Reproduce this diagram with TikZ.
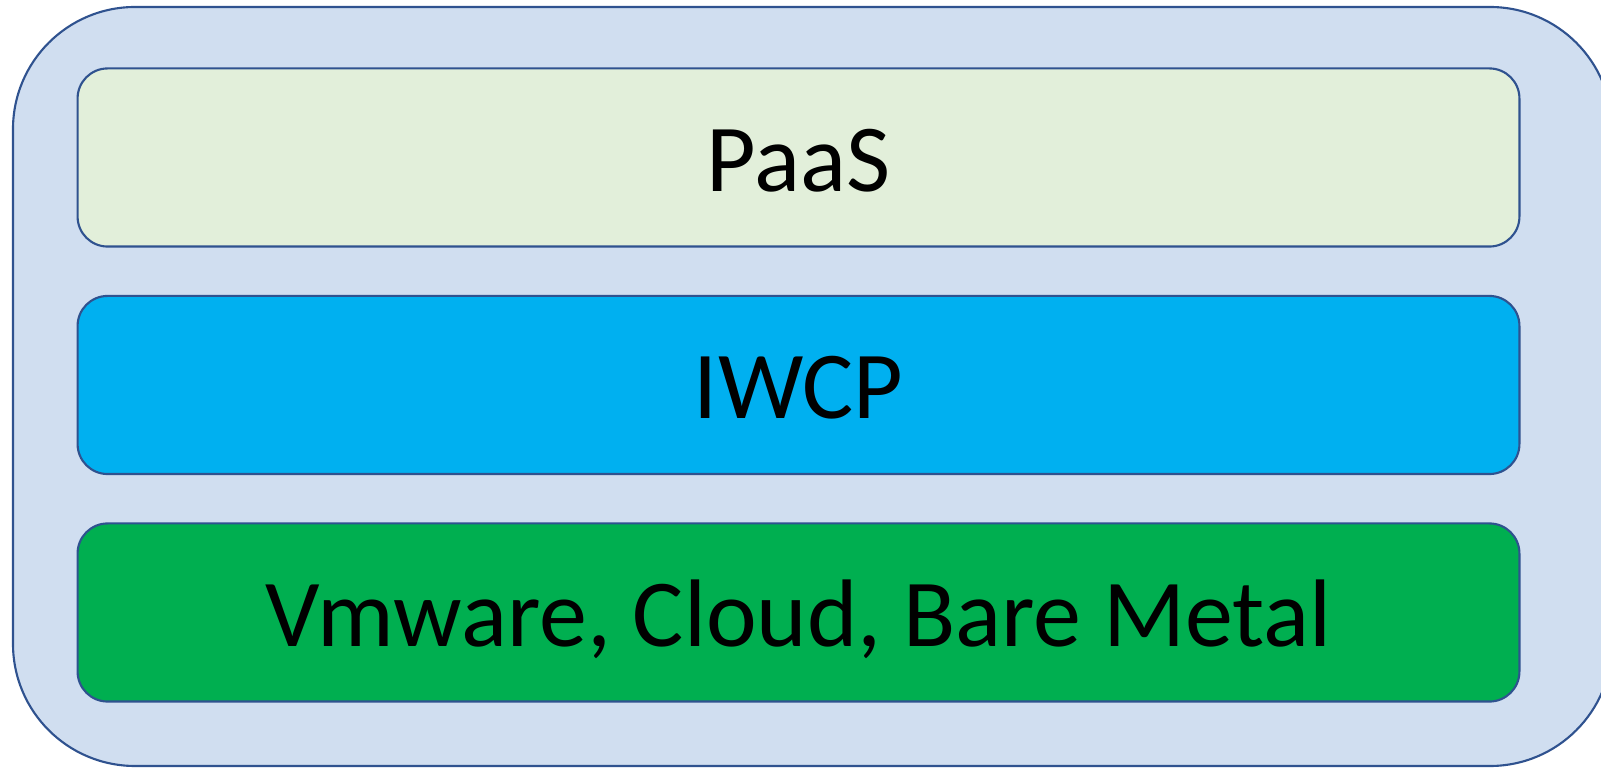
\documentclass[tikz,border=0pt]{standalone}
\usepackage{fontspec}
\setmainfont{Carlito}
\usepackage{xcolor}
\usepackage{tikz}

\definecolor{frameblue}{HTML}{2F528F}
\definecolor{outerfill}{HTML}{D0DEF0}
\definecolor{paasfill}{HTML}{E2EFDA}
\definecolor{iwcpfill}{HTML}{00B0F0}
\definecolor{infrafill}{HTML}{00AF50}

\begin{document}
\begin{tikzpicture}[x=0.01cm,y=-0.01cm]
\tikzset{layer/.style={draw=frameblue,line width=0.6pt,rounded corners=0.3cm,
  minimum width=14.41cm,minimum height=1.78cm,inner sep=0pt,
  font=\fontsize{27.3}{30}\selectfont,text height=23.2pt,text depth=4.1pt}}
\useasboundingbox (0,0) rectangle (1601,768);

\begin{scope} %outer frame
 \def\cx{798.5} \def\g{227.5}
 \draw[frameblue,fill=outerfill,line width=0.6pt,rounded corners=1.22cm] (13,7) rectangle (1612,766);

 \node[layer,fill=paasfill] (paas) at (\cx,157.5) {PaaS};
 \node[layer,fill=iwcpfill] (iwcp) at (\cx,157.5+\g) {IWCP};
 \node[layer,fill=infrafill] (infra) at (\cx,157.5+2*\g) {Vmware, Cloud, Bare Metal};
\end{scope}

\end{tikzpicture}
\end{document}
